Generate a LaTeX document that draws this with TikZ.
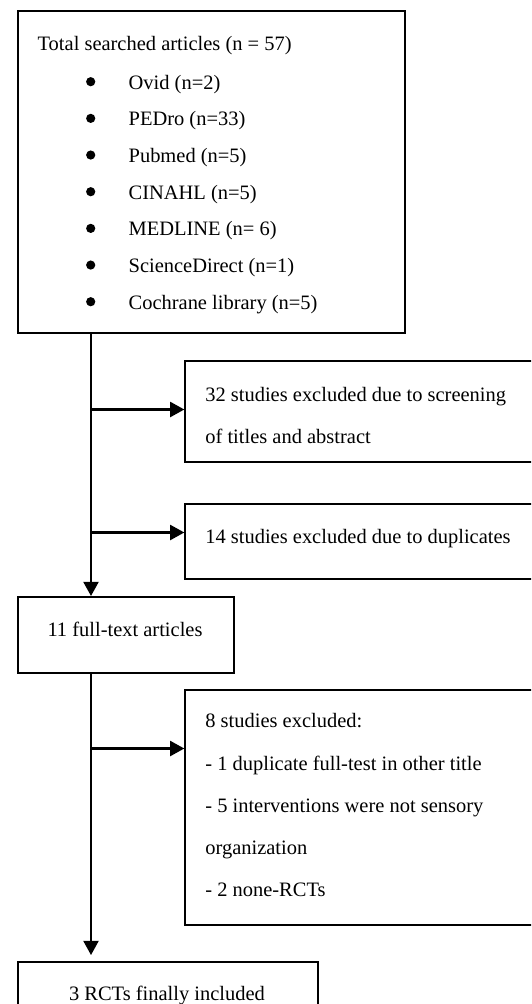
\documentclass[tikz,border=0pt]{standalone}
\usepackage{fontspec}
\setmainfont{Liberation Serif}
\usetikzlibrary{arrows.meta}
\newcommand{\pxu}{0.5862pt}
\begin{document}
\begin{tikzpicture}[x=0.5862pt,y=-0.5862pt,
  box/.style={draw, line width=1.15pt, rectangle, anchor=north west, inner sep=0pt},
  txt/.style={anchor=base west, inner sep=0pt, font=\fontsize{12}{14}\selectfont},
  ctxt/.style={anchor=base, inner sep=0pt, font=\fontsize{12}{14}\selectfont},
  arr/.style={line width=1.3pt, -{Triangle[length=8.3pt,width=8.8pt]}},
  ]
\useasboundingbox (0,0) rectangle (531,1004);
\clip (0,0) rectangle (531,1004);
\fill[white] (0,0) rectangle (531,1004);

% boxes
\node[box, minimum width=387.3*\pxu, minimum height=321.7*\pxu] (top) at (16.7,10) {};
\node[box, minimum width=375.7*\pxu, minimum height=101*\pxu] (excl1) at (184.3,360) {};
\node[box, minimum width=375.7*\pxu, minimum height=75*\pxu] (excl2) at (184.3,503) {};
\node[box, minimum width=216.6*\pxu, minimum height=75.7*\pxu] (full) at (16.7,596) {};
\node[box, minimum width=375.7*\pxu, minimum height=234.7*\pxu] (excl3) at (184.3,689.3) {};
\node[box, minimum width=300.4*\pxu, minimum height=79*\pxu] (incl) at (16.9,961) {};

% texts of the first box
\node[txt] (title) at (37.3,50.7) {Total searched articles (n = 57)};
\foreach \t [count=\i from 0] in {Ovid (n=2), PEDro (n=33), Pubmed (n=5), CINAHL (n=5), MEDLINE (n= 6), ScienceDirect (n=1), Cochrane library (n=5)} {
  \fill (90.7,81.7+36.67*\i) circle (4.6);
  \node[txt] (db\i) at (128.3,89.3+36.67*\i) {\t};
}

% other texts
\node[txt] (e1a) at (205,401.5) {32 studies excluded due to screening};
\node[txt] (e1b) at (205,443) {of titles and abstract};
\node[txt] (e2) at (205,543) {14 studies excluded due to duplicates};
\node[ctxt] (ft) at (125,636.7) {11 full-text articles};
\node[txt] (e3a) at (205,727.5) {8 studies excluded:};
\node[txt] (e3b) at (205,770) {- 1 duplicate full-test in other title};
\node[txt] (e3c) at (205,812.5) {- 5 interventions were not sensory};
\node[txt] (e3d) at (205,854.5) {organization};
\node[txt] (e3e) at (205,896.5) {- 2 none-RCTs};
\node[ctxt] (inc) at (167,1000.5) {3 RCTs finally included};

% connectors
\coordinate (v) at (91,0);
\coordinate (b1) at (91,409.5);
\coordinate (b2) at (91,532.5);
\coordinate (b3) at (91,748.5);
\draw[arr] (top.south -| v) -- (full.north -| v);
\draw[arr] (b1) -- (b1 -| excl1.west);
\draw[arr] (b2) -- (b2 -| excl2.west);
\draw[arr, shorten >=3.5pt] (full.south -| v) -- (incl.north -| v);
\draw[arr] (b3) -- (b3 -| excl3.west);
\end{tikzpicture}
\end{document}
